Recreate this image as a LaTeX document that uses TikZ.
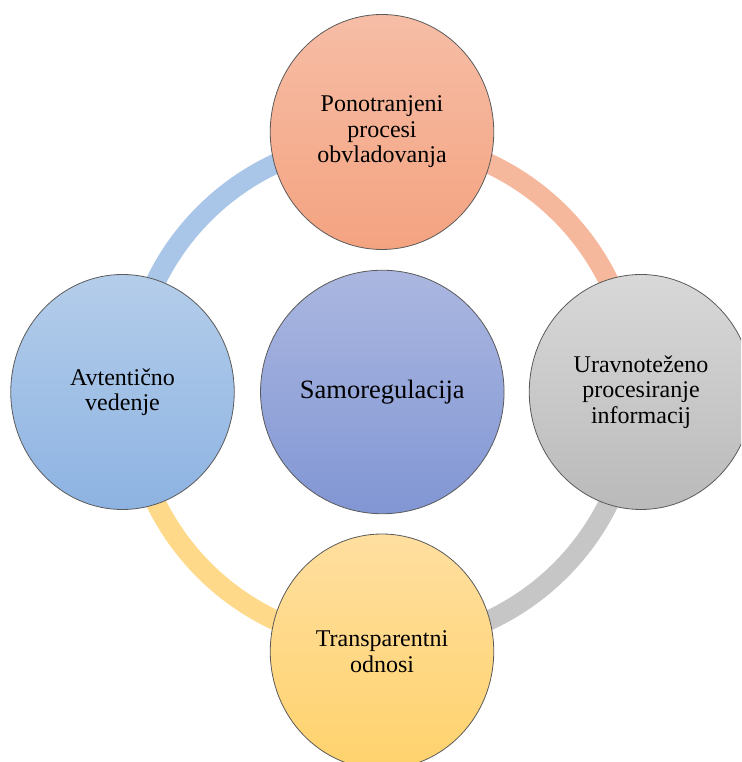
\documentclass[tikz,border=0pt]{standalone}
\usepackage{fontspec}
\setmainfont{Liberation Serif}
\usetikzlibrary{shapes.geometric}

% fills and ring colours
\definecolor{salmonTop}{HTML}{F6BDA6}
\definecolor{salmonBot}{HTML}{F4A380}
\definecolor{blueTop}{HTML}{B4CDEA}
\definecolor{blueBot}{HTML}{8DB3E2}
\definecolor{grayTop}{HTML}{D8D8D8}
\definecolor{grayBot}{HTML}{BABABA}
\definecolor{yellowTop}{HTML}{FFDFA0}
\definecolor{yellowBot}{HTML}{FFD26C}
\definecolor{coreTop}{HTML}{ABB7E0}
\definecolor{coreBot}{HTML}{8196D4}
\definecolor{ringSalmon}{HTML}{F5B89D}
\definecolor{ringGray}{HTML}{C6C6C6}
\definecolor{ringYellow}{HTML}{FFD98A}
\definecolor{ringBlue}{HTML}{A9C6E8}
\definecolor{rim}{HTML}{5A5A5A}

\tikzset{
  satellite/.style={ellipse, draw=rim, line width=0.8pt, inner sep=0pt,
    minimum width=223.5pt, minimum height=235pt, align=center,
    font=\fontsize{24}{25.5}\selectfont},
  core/.style={circle, draw=rim, line width=0.8pt, inner sep=0pt,
    minimum size=243.5pt, align=center,
    font=\fontsize{26.5}{30}\selectfont},
  ringband/.style={line width=20pt}
}

\begin{document}
\begin{tikzpicture}[x=1pt,y=1pt]
  \useasboundingbox (0,0) rectangle (741,762);
  \clip (0,0) rectangle (741,762);

  % centre of the cycle
  \coordinate (hub) at (382.3,370);

  % ring segments, each running clockwise from its circle to the next
  \draw[ringband, ringSalmon] (hub) ++(90:252pt) arc[start angle=90, end angle=0, radius=252pt];
  \draw[ringband, ringGray]   (hub) ++(0:252pt) arc[start angle=0, end angle=-90, radius=252pt];
  \draw[ringband, ringYellow] (hub) ++(-90:252pt) arc[start angle=-90, end angle=-180, radius=252pt];
  \draw[ringband, ringBlue]   (hub) ++(180:252pt) arc[start angle=180, end angle=90, radius=252pt];

  % outer circles
  \node[satellite, top color=salmonTop, bottom color=salmonBot] (top) at (382,630)
    {Ponotranjeni\\procesi\\obvladovanja};
  \node[satellite, top color=grayTop, bottom color=grayBot] (right) at (641,370)
    {Uravnoteženo\\procesiranje\\informacij};
  \node[satellite, top color=yellowTop, bottom color=yellowBot] (bottom) at (382,110.5)
    {Transparentni\\odnosi};
  \node[satellite, top color=blueTop, bottom color=blueBot] (left) at (122.5,370)
    {Avtentično\\vedenje};

  % central circle
  \node[core, top color=coreTop, bottom color=coreBot] (centre) at (hub) {Samoregulacija};
\end{tikzpicture}
\end{document}
